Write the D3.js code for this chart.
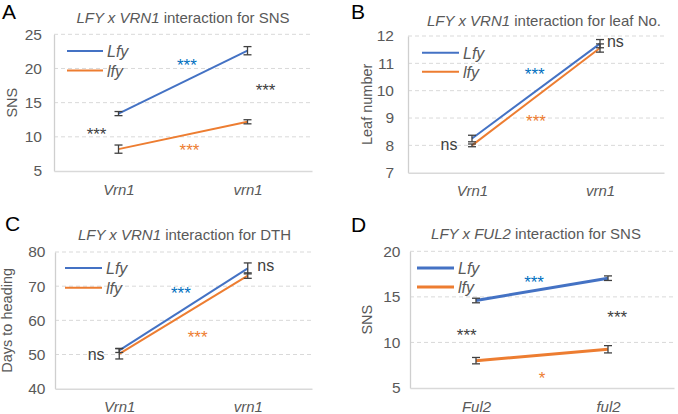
<!DOCTYPE html>
<html><head><meta charset="utf-8">
<script src="https://cdn.jsdelivr.net/npm/d3@7"></script>
<style>body{margin:0;background:#fff}svg{display:block;font-family:Arial,"Liberation Sans",sans-serif}</style>
</head><body><svg id="c" width="678" height="414"></svg>
<script>
// ---- data ----
const seriesNames = ["Lfy", "lfy"];
const catsVrn = ["Vrn1", "vrn1"];
const catsFul = ["Ful2", "ful2"];

const snsVrnLfy = [13.4, 22.6], snsVrnLfyErr = [0.3, 0.6];
const snsVrnlfy = [8.2, 12.2],  snsVrnlfyErr = [0.6, 0.3];
const leafLfy = [8.25, 11.72], leafLfyErr = [0.12, 0.15];
const leaflfy = [8.0, 11.56],  leaflfyErr = [0.05, 0.15];
const dthLfy = [51.2, 75.2], dthLfyErr = [0.6, 1.6];
const dthlfy = [50.2, 73.1], dthlfyErr = [1.5, 0.8];
const snsFulLfy = [14.6, 17.05], snsFulLfyErr = [0.25, 0.25];
const snsFullfy = [8.0, 9.25],   snsFullfyErr = [0.35, 0.4];

const ticksA = [5, 10, 15, 20, 25];
const ticksB = [7, 8, 9, 10, 11, 12];
const ticksC = [40, 50, 60, 70, 80];
const ticksD = [5, 10, 15, 20];

// annotations: x = position between categories (0 = first, 1 = second), y = value (baseline)
const annA = [{x:0.53,y:19.6,t:"***",c:"blue"},{x:1.14,y:16.0,t:"***",c:"gray"},{x:-0.17,y:9.5,t:"***",c:"gray"},{x:0.55,y:7.2,t:"***",c:"orange"}];
const annB = [{x:0.49,y:10.4,t:"***",c:"blue"},{x:0.50,y:8.67,t:"***",c:"orange"},{x:1.12,y:11.6,t:"ns",c:"dark"},{x:-0.18,y:7.83,t:"ns",c:"dark"}];
const annC = [{x:0.48,y:66.2,t:"***",c:"blue"},{x:0.61,y:53.4,t:"***",c:"orange"},{x:-0.18,y:48.4,t:"ns",c:"dark"},{x:1.14,y:74.4,t:"ns",c:"dark"}];
const annD = [{x:0.44,y:16.0,t:"***",c:"blue"},{x:1.07,y:12.1,t:"***",c:"gray"},{x:-0.07,y:10.2,t:"***",c:"gray"},{x:0.50,y:5.44,t:"*",c:"orange"}];

const colors = {Lfy:"#4472C4", lfy:"#ED7D31"};
const annColors = {blue:"#0070C0", orange:"#ED7D31", gray:"#404040", dark:"#404040"};

const panels = [
 {letter:"A", lx:2, ly:19, title:[["LFY x VRN1",true],[" interaction for SNS",false]], tx:183, ty:22.5,
  ytitle:"SNS", ytx:16.5, cats:catsVrn, ticks:ticksA, dom:[5,25], tp:12,
  L:54, R:312, T:34.3, B:171, lw:2,
  s:[[snsVrnLfy,snsVrnLfyErr],[snsVrnlfy,snsVrnlfyErr]], ann:annA, leg:[67,103,51,70.5]},
 {letter:"B", lx:351, ly:19, title:[["LFY x VRN1",true],[" interaction for leaf No.",false]], tx:544, ty:26,
  ytitle:"Leaf number", ytx:372, cats:catsVrn, ticks:ticksB, dom:[7,12], tp:14,
  L:408, R:664, T:36, B:172.7, lw:2,
  s:[[leafLfy,leafLfyErr],[leaflfy,leaflfyErr]], ann:annB, leg:[422,459,52.7,71.7]},
 {letter:"C", lx:5, ly:231, title:[["LFY x VRN1",true],[" interaction for DTH",false]], tx:184.5, ty:240.3,
  ytitle:"Days to heading", ytx:12, cats:catsVrn, ticks:ticksC, dom:[40,80], tp:9.5,
  L:55, R:312, T:252, B:388.7, lw:2,
  s:[[dthLfy,dthLfyErr],[dthlfy,dthlfyErr]], ann:annC, leg:[65,102,268,287.7]},
 {letter:"D", lx:351, ly:232, title:[["LFY x FUL2",true],[" interaction for SNS",false]], tx:536, ty:239.3,
  ytitle:"SNS", ytx:372, cats:catsFul, ticks:ticksD, dom:[5,20], tp:9.5,
  L:410, R:674, T:251.3, B:388, lw:3,
  s:[[snsFulLfy,snsFulLfyErr],[snsFullfy,snsFullfyErr]], ann:annD, leg:[417,454,268,287]}
];

const svg = d3.select("#c");
const grey = "#595959";

panels.forEach(p => {
  const g = svg.append("g");
  const x = d3.scalePoint().domain(p.cats).range([p.L, p.R]).padding(0.5);
  const y = d3.scaleLinear().domain(p.dom).range([p.B, p.T]);
  const step = x(p.cats[1]) - x(p.cats[0]);
  const xf = f => x(p.cats[0]) + f * step;

  // panel letter
  g.append("text").attr("x", p.lx).attr("y", p.ly).attr("font-size", 21).attr("fill", "#000").text(p.letter);
  // title
  const tt = g.append("text").attr("x", p.tx).attr("y", p.ty).attr("text-anchor","middle")
    .attr("font-size", 15).attr("fill", grey);
  p.title.forEach(([s, it]) => tt.append("tspan").attr("font-style", it ? "italic" : "normal").text(s));

  // gridlines
  g.append("g").selectAll("line").data(p.ticks.slice(1)).join("line")
    .attr("x1", p.L).attr("x2", p.R).attr("y1", d => y(d)).attr("y2", d => y(d))
    .attr("stroke", "#d9d9d9").attr("stroke-width", 1).attr("stroke-dasharray", "4,3");

  // y axis
  const ya = g.append("g").attr("transform", `translate(${p.L},0)`)
    .call(d3.axisLeft(y).tickValues(p.ticks).tickFormat(d3.format("d")).tickSize(0).tickPadding(p.tp));
  ya.select(".domain").attr("stroke", "#cfcfcf").attr("stroke-width", 1.3);
  ya.selectAll("text").attr("font-size", 15.5).attr("fill", grey).attr("font-family", "Arial, 'Liberation Sans', sans-serif");

  // x axis
  const xa = g.append("g").attr("transform", `translate(0,${p.B})`)
    .call(d3.axisBottom(x).tickSize(0).tickPadding(13));
  xa.select(".domain").attr("stroke", "#d9d9d9").attr("stroke-width", 1.5);
  xa.selectAll("text").attr("font-size", 15).attr("font-style", "italic").attr("fill", grey).attr("font-family", "Arial, 'Liberation Sans', sans-serif");

  // y title
  g.append("text").attr("transform", `translate(${p.ytx},${(p.T + p.B) / 2}) rotate(-90)`)
    .attr("text-anchor", "middle").attr("font-size", 14.5).attr("fill", grey).text(p.ytitle);

  // lines
  const line = d3.line().x((d, i) => x(p.cats[i])).y(d => y(d));
  p.s.forEach(([vals, errs], k) => {
    g.append("path").datum(vals).attr("d", line).attr("fill", "none")
      .attr("stroke", colors[seriesNames[k]]).attr("stroke-width", p.lw);
  });
  // error bars
  p.s.forEach(([vals, errs], k) => {
    vals.forEach((v, i) => {
      const cx = x(p.cats[i]);
      const eb = g.append("g").attr("stroke", "#404040").attr("stroke-width", 1.3);
      eb.append("line").attr("x1", cx).attr("x2", cx).attr("y1", y(v - errs[i])).attr("y2", y(v + errs[i]));
      [v - errs[i], v + errs[i]].forEach(e =>
        eb.append("line").attr("x1", cx - 4).attr("x2", cx + 4).attr("y1", y(e)).attr("y2", y(e)));
    });
  });

  // legend
  const [lx1, lx2, ly1, ly2] = p.leg;
  [ly1, ly2].forEach((ly, k) => {
    g.append("line").attr("x1", lx1).attr("x2", lx2).attr("y1", ly).attr("y2", ly)
      .attr("stroke", colors[seriesNames[k]]).attr("stroke-width", p.lw);
    g.append("text").attr("x", lx2 + 4).attr("y", ly + 6).attr("font-size", 16).attr("font-style", "italic")
      .attr("fill", grey).text(seriesNames[k]);
  });

  // annotations
  g.append("g").selectAll("text").data(p.ann).join("text")
    .attr("x", d => xf(d.x)).attr("y", d => y(d.y)).attr("text-anchor", "middle")
    .attr("font-size", d => d.t === "ns" ? 16 : 17).attr("fill", d => annColors[d.c]).text(d => d.t);
});
</script></body></html>
